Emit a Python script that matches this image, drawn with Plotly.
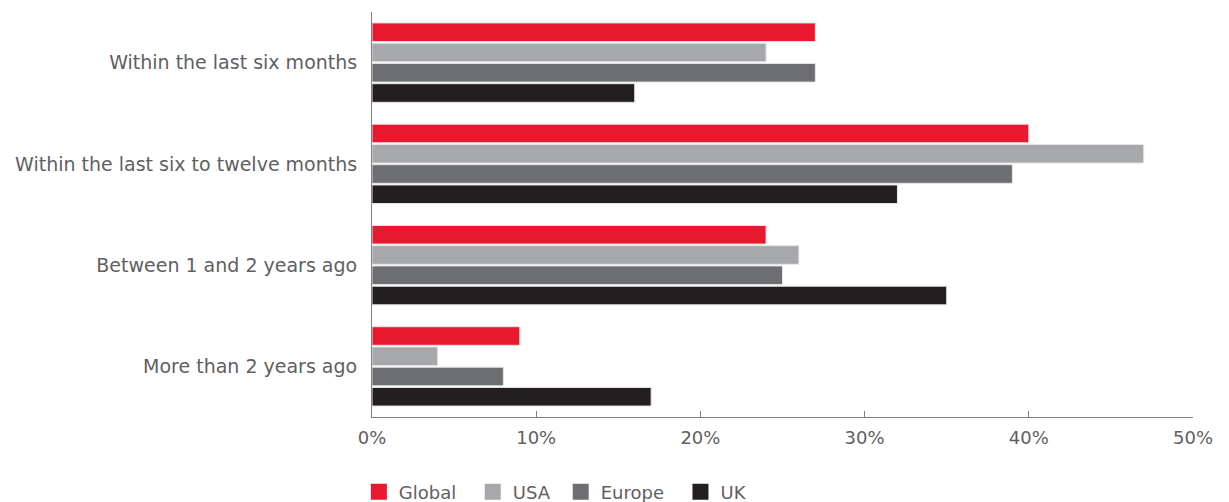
import plotly.graph_objects as go

categories = ["Within the last six months", "Within the last six to twelve months",
              "Between 1 and 2 years ago", "More than 2 years ago"]
series_names = ["Global", "USA", "Europe", "UK"]
global_vals = [27, 40, 24, 9]
usa_vals = [24, 47, 26, 4]
europe_vals = [27, 39, 25, 8]
uk_vals = [16, 32, 35, 17]
tick_vals = [0, 10, 20, 30, 40, 50]
tick_text = ["0%", "10%", "20%", "30%", "40%", "50%"]

colors = ["#E8192F", "#A7A8AB", "#6D6E71", "#231F20"]
values = [global_vals, usa_vals, europe_vals, uk_vals]
legend_pad = [2, 1, 2, 0]  # extra spacing after each legend entry

fig = go.Figure()
for name, vals, col in zip(series_names, values, colors):
    fig.add_trace(go.Bar(
        y=categories, x=vals, name=name, orientation="h",
        marker=dict(color=col, line=dict(color="#E6E6E6", width=1)),
        hoverinfo="x+name", showlegend=False,
    ))
# legend-only entries with larger square swatches
for name, col, pad in zip(series_names, colors, legend_pad):
    fig.add_trace(go.Scatter(
        x=[None], y=[None], mode="markers", name=name + "\u00a0" * pad,
        marker=dict(symbol="square", size=16, color=col),
        showlegend=True, hoverinfo="skip",
    ))

font_family = "'DejaVu Sans', sans-serif"
text_col = "#5F6062"
fig.update_layout(
    width=1229, height=502,
    margin=dict(l=372, r=36, t=12, b=85, autoexpand=False),
    paper_bgcolor="white", plot_bgcolor="white",
    barmode="group", bargap=0.2, bargroupgap=0.08,
    font=dict(family=font_family, color=text_col, size=18),
    showlegend=True,
    legend=dict(orientation="h", x=-0.016, xanchor="left", y=-0.185, yanchor="middle",
                font=dict(size=18, color=text_col), traceorder="normal",
                itemsizing="trace", itemwidth=30, tracegroupgap=0),
    xaxis=dict(range=[0, 50], tickvals=tick_vals, ticktext=tick_text,
               showgrid=False, zeroline=False, showline=True, linecolor="#808080",
               linewidth=1, ticks="inside", ticklen=6, tickcolor="#808080",
               ticklabelstandoff=4,
               tickfont=dict(size=18, color=text_col)),
    yaxis=dict(autorange="reversed", showgrid=False, zeroline=False, showline=True,
               linecolor="#808080", linewidth=1, ticks="", ticklabelstandoff=10,
               tickfont=dict(size=19, color=text_col)),
)

fig.write_html("out.html")
